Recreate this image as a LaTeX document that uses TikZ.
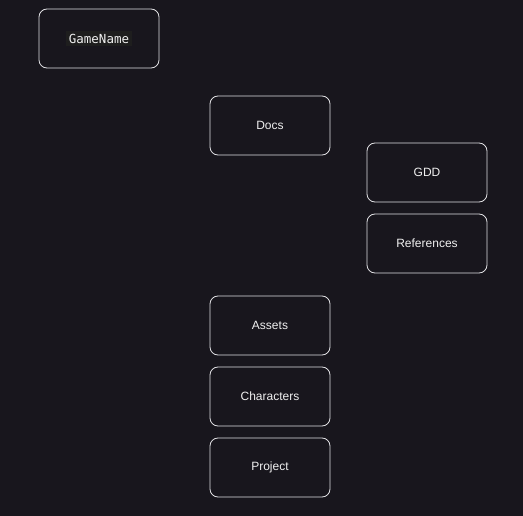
\documentclass[tikz,border=0pt]{standalone}
\usepackage{fontspec}
\setmainfont{Liberation Sans}
\newfontfamily\codefont{DejaVu Sans Mono}
\definecolor{pagebg}{RGB}{24,22,29}
\definecolor{codebg}{RGB}{30,30,30}
\definecolor{boxline}{RGB}{225,225,228}
\definecolor{labeltext}{RGB}{240,240,240}

\begin{document}
\begin{tikzpicture}[x=1pt,y=-1pt,
    folder/.style={draw=boxline,line width=0.8pt,rounded corners=8pt,
      minimum width=120pt,minimum height=59pt,inner sep=0pt,
      text=labeltext,font=\fontsize{12}{14}\selectfont}]
    \fill[pagebg] (0,0) rectangle (523,516);
    \useasboundingbox (0,0) rectangle (523,516);
    \node[folder] (gamename) at (99,38.5)
      {\colorbox{codebg}{\codefont\fontsize{12.5}{14}\selectfont GameName}};
    \node[folder] (docs) at (270,125.5) {Docs};
    \node[folder] (gdd) at (427,172.5) {GDD};
    \node[folder] (refs) at (427,243.5) {References};
    \node[folder] (assets) at (270,325.5) {Assets};
    \node[folder] (chars) at (270,396.5) {Characters};
    \node[folder] (project) at (270,467.5) {Project};
  \end{tikzpicture}
\end{document}
